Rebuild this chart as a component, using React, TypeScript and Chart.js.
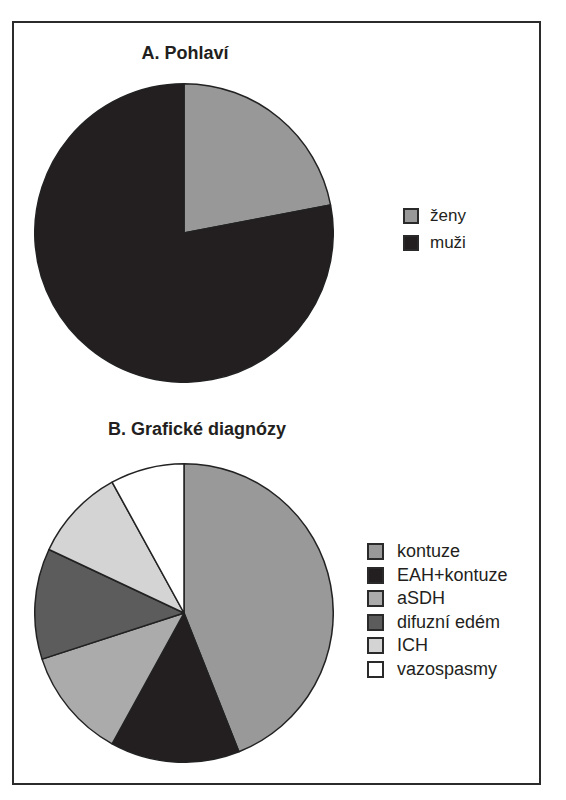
import React, { useEffect, useRef } from "react";
import { Chart, registerables } from "chart.js";

Chart.register(...registerables);

const sexLabels = ["ženy", "muži"];
const sexValues = [22, 78];
const sexColors = ["#989898", "#231f20"];

const diagLabels = ["kontuze", "EAH+kontuze", "aSDH", "difuzní edém", "ICH", "vazospasmy"];
const diagValues = [44, 14, 12, 12, 10, 8];
const diagColors = ["#999999", "#231f20", "#ababab", "#5c5c5c", "#d4d4d4", "#ffffff"];

const FONT = '"Liberation Sans", Arial, Helvetica, sans-serif';
const INK = "#231f20";

function Pie(props: { labels: string[]; values: number[]; colors: string[]; left: number; top: number; size: number }) {
  const ref = useRef<HTMLCanvasElement | null>(null);
  useEffect(() => {
    if (!ref.current) return;
    const chart = new Chart(ref.current, {
      type: "pie",
      data: {
        labels: props.labels,
        datasets: [
          {
            data: props.values,
            backgroundColor: props.colors,
            borderColor: "#222222",
            borderWidth: 1.5,
          },
        ],
      },
      options: {
        animation: false,
        responsive: false,
        maintainAspectRatio: false,
        layout: { padding: 0 },
        plugins: {
          legend: { display: false },
          tooltip: { enabled: false },
          title: { display: false },
        },
      },
    });
    return () => chart.destroy();
  }, []);
  return (
    <canvas
      ref={ref}
      width={props.size}
      height={props.size}
      style={{ position: "absolute", left: props.left, top: props.top, width: props.size, height: props.size }}
    />
  );
}

function Legend(props: { labels: string[]; colors: string[]; left: number; top: number; rowH: number; box: number; gap: number; fontSize: number }) {
  return (
    <div style={{ position: "absolute", left: props.left, top: props.top, fontFamily: FONT, fontSize: props.fontSize, color: INK }}>
      {props.labels.map((l, i) => (
        <div key={l} style={{ display: "flex", alignItems: "center", height: props.rowH, whiteSpace: "nowrap" }}>
          <div
            style={{
              width: props.box,
              height: props.box,
              boxSizing: "border-box",
              border: "2px solid #2a2a2a",
              background: props.colors[i],
              marginRight: props.gap,
              flex: "none",
            }}
          />
          <span>{l}</span>
        </div>
      ))}
    </div>
  );
}

export default function App() {
  return (
    <div style={{ position: "absolute", left: 0, top: 0, width: 566, height: 800, background: "#fff" }}>
      <div
        style={{
          position: "absolute",
          left: 12,
          top: 21,
          width: 529,
          height: 764,
          boxSizing: "border-box",
          border: "2px solid #2b2b2b",
        }}
      />
      <div
        style={{
          position: "absolute",
          left: 85,
          top: 43,
          width: 200,
          textAlign: "center",
          fontFamily: FONT,
          fontWeight: "bold",
          fontSize: 18,
          lineHeight: "20px",
          color: INK,
        }}
      >
        A. Pohlaví
      </div>
      <Pie labels={sexLabels} values={sexValues} colors={sexColors} left={34} top={83} size={300} />
      <Legend labels={sexLabels} colors={sexColors} left={403} top={202} rowH={27} box={16} gap={11} fontSize={17} />

      <div
        style={{
          position: "absolute",
          left: 87,
          top: 419,
          width: 220,
          textAlign: "center",
          fontFamily: FONT,
          fontWeight: "bold",
          fontSize: 18,
          lineHeight: "20px",
          color: INK,
        }}
      >
        B. Grafické diagnózy
      </div>
      <Pie labels={diagLabels} values={diagValues} colors={diagColors} left={34} top={463} size={300} />
      <Legend labels={diagLabels} colors={diagColors} left={367} top={540} rowH={23.5} box={17} gap={13} fontSize={18} />
    </div>
  );
}
